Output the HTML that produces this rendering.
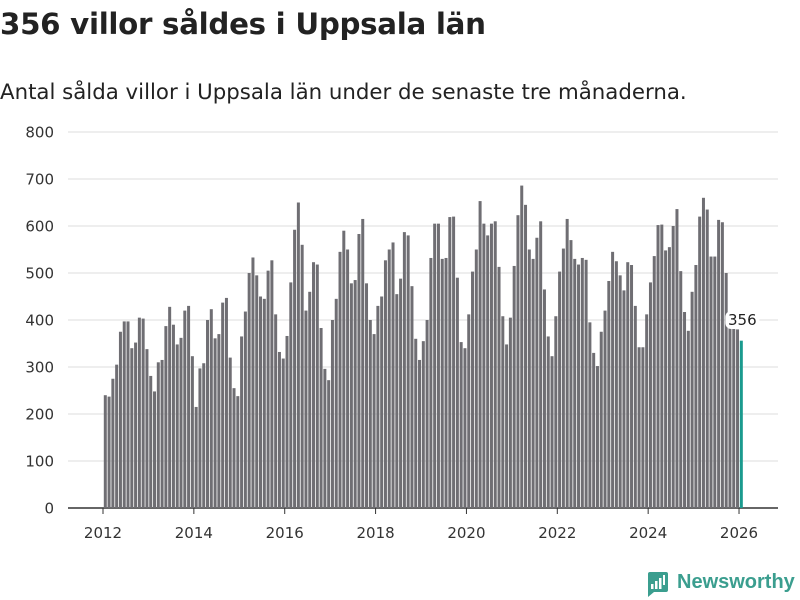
<!DOCTYPE html>
<html><head><meta charset="utf-8">
<style>
body{margin:0;width:800px;height:600px;background:#fff;font-family:"DejaVu Sans",sans-serif;overflow:hidden;position:relative}
#title{position:absolute;left:0;top:7px;font-size:29.3px;font-weight:bold;color:#222;margin:0;letter-spacing:-0.3px;font-family:"DejaVu Sans",sans-serif}
#sub{position:absolute;left:0;top:80px;font-size:21.3px;color:#222;font-family:"DejaVu Sans",sans-serif}
svg{position:absolute;left:0;top:0}
</style></head><body>
<h1 id="title">356 villor såldes i Uppsala län</h1>
<div id="sub">Antal sålda villor i Uppsala län under de senaste tre månaderna.</div>
<svg id="chart" width="800" height="600"></svg>
<script>
const yTicks=[0,100,200,300,400,500,600,700,800];
const xTickYears=[2012,2014,2016,2018,2020,2022,2024,2026];
const startYear=2012;
const values=[
240,237,275,305,375,397,397,340,352,405,403,338,
281,248,310,315,387,428,390,348,362,420,430,323,
215,297,308,400,423,361,370,437,447,320,255,238,
365,418,500,533,495,450,445,505,527,412,332,318,
366,480,592,650,560,420,460,523,518,383,296,272,
400,445,545,590,550,478,485,583,615,478,400,370,
430,450,527,550,565,455,488,587,580,472,360,315,
355,400,532,605,605,530,532,619,620,490,353,340,
412,503,550,653,605,580,605,610,513,408,348,405,
515,623,686,645,550,530,575,610,465,365,323,408,
503,552,615,570,530,518,532,528,395,330,302,375,
420,483,545,525,495,463,523,517,430,342,342,412,
480,536,602,603,548,555,600,636,504,417,377,460,
517,620,660,635,535,535,613,608,500,385,383,380,
356];
const lastLabel="356";
const NS="http://www.w3.org/2000/svg";
const svg=document.getElementById('chart');
const y0=508,y1=132,vmax=800;
const yS=v=>y0-(v/vmax)*(y0-y1);
const x2012=103,pxYear=45.43;
const xS=m=>x2012+m*pxYear/12;
const FONT='DejaVu Sans, sans-serif';
function mk(t,a){const e=document.createElementNS(NS,t);for(const k in a)e.setAttribute(k,a[k]);svg.appendChild(e);return e;}
yTicks.forEach(v=>{
  const l=mk('line',{x1:68,x2:778,y1:yS(v),y2:yS(v),stroke:v===0?'#333':'#ddd','stroke-width':v===0?1.5:1});
  
  
  const t=mk('text',{x:54,y:yS(v)+5.5,'text-anchor':'end','font-size':15,fill:'#333','font-family':FONT});
  t.textContent=v;
  
  
});
values.forEach((v,i)=>{
  const last=i===values.length-1;
  const r=mk('rect',{x:xS(i)+0.8,y:yS(v),width:3,height:y0-yS(v),fill:last?'#1a9a8e':'#6f6e73'});
  
  
});
xTickYears.forEach(yr=>{
  const x=xS((yr-startYear)*12);
  const tk=mk('line',{x1:x,x2:x,y1:y0,y2:y0+6,stroke:'#333','stroke-width':1});
  
  
  const t=mk('text',{x:x,y:538,'text-anchor':'middle','font-size':15,fill:'#333','font-family':FONT});
  t.textContent=yr;
  
  
});
const li=values.length-1;
const lx=xS(li)+2.3;
const bg=mk('rect',{x:lx-16,y:311,width:34,height:18,rx:6,fill:'#fff'});


const lt=mk('text',{x:lx+1,y:325,'text-anchor':'middle','font-size':15,fill:'#222','font-family':FONT});
lt.textContent=lastLabel;


</script>
<div style="position:absolute;left:645px;top:570px;display:flex;align-items:center">
<svg width="24" height="28" style="position:static"><path d="M3 2h18a2 2 0 0 1 2 2v16a2 2 0 0 1-2 2H9l-6 5V4a2 2 0 0 1 2-2z" fill="#3b9e8f"/><rect x="6" y="14" width="2.5" height="5" fill="#fff"/><rect x="10" y="11" width="2.5" height="8" fill="#fff"/><rect x="14" y="8" width="2.5" height="11" fill="#fff"/><rect x="18" y="5" width="2" height="10" fill="#fff"/></svg>
<span style="font-size:20px;font-weight:bold;color:#3b9e8f;margin-left:8px;margin-top:-4px;font-family:'Liberation Sans',sans-serif">Newsworthy</span>
</div>
</body></html>
